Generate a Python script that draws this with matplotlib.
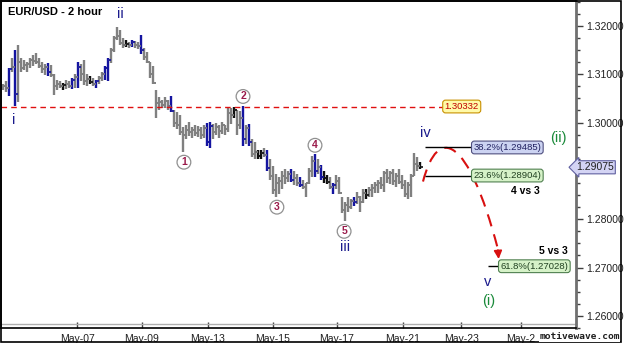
import matplotlib
matplotlib.use("Agg")
import matplotlib.pyplot as plt
import numpy as np
from matplotlib.path import Path
from matplotlib.patches import PathPatch, Rectangle

plt.rcParams['font.family'] = ['Liberation Sans', 'DejaVu Sans']

# 2 hour EUR/USD bars
highs = [1.3080, 1.3085, 1.3113, 1.3134, 1.3151, 1.3161, 1.3134, 1.3130, 1.3126, 1.3134,
         1.3140, 1.3144, 1.3134, 1.3126, 1.3122, 1.3124, 1.3120, 1.3101, 1.3089, 1.3085,
         1.3082, 1.3089, 1.3087, 1.3093, 1.3101, 1.3126, 1.3122, 1.3130, 1.3101, 1.3097,
         1.3093, 1.3089, 1.3097, 1.3105, 1.3118, 1.3134, 1.3155, 1.3179, 1.3198, 1.3192,
         1.3175, 1.3171, 1.3167, 1.3171, 1.3169, 1.3167, 1.3181, 1.3155, 1.3146, 1.3126,
         1.3118, 1.3068, 1.3052, 1.3047, 1.3052, 1.3047, 1.3054, 1.3027, 1.3021, 1.3016,
         1.2990, 1.2996, 1.3002, 1.2990, 1.2994, 1.2992, 1.2990, 1.2996, 1.3000, 1.3002,
         1.2998, 1.3000, 1.2996, 1.3002, 1.2996, 1.3031, 1.3031, 1.3033, 1.3027, 1.3023,
         1.3035, 1.2996, 1.2998, 1.2965, 1.2959, 1.2944, 1.2944, 1.2948, 1.2944, 1.2924,
         1.2911, 1.2893, 1.2887, 1.2899, 1.2903, 1.2899, 1.2903, 1.2899, 1.2893, 1.2887,
         1.2882, 1.2876, 1.2907, 1.2930, 1.2934, 1.2924, 1.2913, 1.2899, 1.2891, 1.2887,
         1.2874, 1.2891, 1.2887, 1.2845, 1.2835, 1.2845, 1.2841, 1.2847, 1.2856, 1.2849,
         1.2862, 1.2862, 1.2866, 1.2872, 1.2878, 1.2882, 1.2887, 1.2899, 1.2903, 1.2899,
         1.2903, 1.2895, 1.2903, 1.2891, 1.2882, 1.2878, 1.2893, 1.2938, 1.2928, 1.2918]
lows = [1.3068, 1.3064, 1.3054, 1.3105, 1.3034, 1.3043, 1.3105, 1.3109, 1.3105, 1.3113,
        1.3118, 1.3122, 1.3113, 1.3103, 1.3099, 1.3097, 1.3095, 1.3058, 1.3068, 1.3072,
        1.3068, 1.3070, 1.3072, 1.3070, 1.3072, 1.3072, 1.3085, 1.3078, 1.3076, 1.3080,
        1.3076, 1.3072, 1.3080, 1.3085, 1.3089, 1.3085, 1.3124, 1.3146, 1.3171, 1.3161,
        1.3155, 1.3157, 1.3155, 1.3157, 1.3155, 1.3153, 1.3142, 1.3130, 1.3124, 1.3093,
        1.3080, 1.3010, 1.3027, 1.3031, 1.3031, 1.3027, 1.3021, 1.2990, 1.2986, 1.2975,
        1.2940, 1.2965, 1.2973, 1.2969, 1.2973, 1.2971, 1.2965, 1.2969, 1.2951, 1.2948,
        1.2965, 1.2975, 1.2969, 1.2977, 1.2975, 1.2981, 1.2998, 1.3010, 1.2975, 1.2986,
        1.2951, 1.2955, 1.2951, 1.2928, 1.2924, 1.2924, 1.2924, 1.2928, 1.2899, 1.2882,
        1.2852, 1.2845, 1.2852, 1.2862, 1.2872, 1.2878, 1.2878, 1.2870, 1.2868, 1.2866,
        1.2862, 1.2847, 1.2872, 1.2887, 1.2887, 1.2893, 1.2882, 1.2874, 1.2872, 1.2862,
        1.2852, 1.2862, 1.2852, 1.2812, 1.2796, 1.2816, 1.2821, 1.2827, 1.2831, 1.2816,
        1.2833, 1.2841, 1.2845, 1.2847, 1.2854, 1.2854, 1.2862, 1.2856, 1.2876, 1.2872,
        1.2870, 1.2866, 1.2872, 1.2862, 1.2845, 1.2841, 1.2845, 1.2889, 1.2899, 1.2903]
closes = [1.3075, 1.3072, 1.3110, 1.3115, 1.3060, 1.3125, 1.3112, 1.3120, 1.3122, 1.3130,
          1.3128, 1.3125, 1.3118, 1.3110, 1.3115, 1.3105, 1.3098, 1.3075, 1.3080, 1.3076,
          1.3078, 1.3080, 1.3076, 1.3088, 1.3095, 1.3115, 1.3100, 1.3085, 1.3090, 1.3083,
          1.3080, 1.3086, 1.3092, 1.3100, 1.3112, 1.3130, 1.3150, 1.3175, 1.3180, 1.3165,
          1.3160, 1.3163, 1.3160, 1.3166, 1.3160, 1.3158, 1.3150, 1.3135, 1.3125, 1.3100,
          1.3082, 1.3040, 1.3042, 1.3036, 1.3044, 1.3035, 1.3024, 1.3000, 1.2995, 1.2980,
          1.2975, 1.2985, 1.2980, 1.2985, 1.2978, 1.2984, 1.2975, 1.2988, 1.2960, 1.2992,
          1.2980, 1.2990, 1.2982, 1.2994, 1.2986, 1.3020, 1.3015, 1.3025, 1.2995, 1.3010,
          1.2965, 1.2988, 1.2960, 1.2935, 1.2940, 1.2930, 1.2938, 1.2932, 1.2905, 1.2890,
          1.2860, 1.2875, 1.2880, 1.2890, 1.2885, 1.2894, 1.2882, 1.2885, 1.2875, 1.2870,
          1.2866, 1.2874, 1.2900, 1.2920, 1.2900, 1.2908, 1.2888, 1.2885, 1.2878, 1.2866,
          1.2870, 1.2880, 1.2855, 1.2820, 1.2830, 1.2826, 1.2838, 1.2835, 1.2845, 1.2836,
          1.2855, 1.2850, 1.2860, 1.2865, 1.2870, 1.2876, 1.2870, 1.2895, 1.2885, 1.2895,
          1.2880, 1.2890, 1.2878, 1.2870, 1.2852, 1.2870, 1.2890, 1.2915, 1.2910, 1.29075]
first_open = 1.3072

blue_bars = [2, 4, 15, 23, 25, 31, 34, 35, 43, 46, 56, 68, 69, 80, 82, 88, 96, 99,
             104, 106, 110, 117]
black_bars = [20, 29, 41, 77, 85, 86, 107, 108, 121, 139]

# date ticks (bar index where each day label sits)
tick_pos = [24.7, 46.3, 68.3, 90.0, 111.3, 133.3, 152.7, 172.5]
tick_labels = ['May-07', 'May-09', 'May-13', 'May-15', 'May-17', 'May-21', 'May-23', 'May-2']

prior_low = 1.30332
fib_382 = 1.29485
fib_236 = 1.28904
fib_618 = 1.27028
last_price = 1.29075

opens = [first_open] + closes[:-1]
x = np.arange(len(closes))
colors = ['#808080'] * len(closes)
for i in blue_bars:
    colors[i] = '#1414a0'
for i in black_bars:
    colors[i] = '#101010'

fig = plt.figure(figsize=(6.25, 3.43), dpi=100)
ax = fig.add_axes([1 / 625, 15 / 343, 575 / 625, 327 / 343])

ax.vlines(x, lows, highs, colors=colors, lw=1.7)
ax.hlines(opens, x - 0.9, x, colors=colors, lw=1.2)
ax.hlines(closes, x, x + 0.9, colors=colors, lw=1.2)

ax.set_xlim(-0.67, 191)
ax.set_ylim(1.25773, 1.32515)

# axes look
ax.yaxis.tick_right()
ax.set_yticks([1.26, 1.27, 1.28, 1.29, 1.30, 1.31, 1.32])
ax.set_yticklabels(['1.26000', '1.27000', '1.28000', '', '1.30000', '1.31000', '1.32000'])
ax.set_yticks(np.arange(1.2575, 1.3251, 0.0025), minor=True)
ax.tick_params(axis='y', which='major', length=5, width=1, colors='#404040',
               labelsize=7.5, labelcolor='#202020', pad=2)
ax.tick_params(axis='y', which='minor', length=3, width=1, colors='#404040')
ax.set_xticks(tick_pos)
ax.set_xticklabels(tick_labels)
ax.tick_params(axis='x', direction='in', length=4, width=1, colors='#404040',
               labelsize=7.5, labelcolor='#202020', pad=4)
for side in ['left', 'top', 'bottom']:
    ax.spines[side].set_color('black')
    ax.spines[side].set_linewidth(1.2)
ax.spines['right'].set_color('#707070')
ax.spines['right'].set_linewidth(2)
ax.plot([0, 1], [0.012, 0.012], transform=ax.transAxes, color='#b0b0b0', lw=1, clip_on=False)

navy = '#1a1a8c'
green = '#1a8a3a'
maroon = '#9b1b4b'

ax.text(0.012, 0.965, 'EUR/USD - 2 hour', transform=ax.transAxes, fontsize=8,
        fontweight='bold', ha='left', va='center')

# prior low level
ax.hlines(prior_low, -0.67, 146.7, colors='#e01010', lw=1, linestyles=(0, (4, 3)))
ax.text(147.2, prior_low, '1.30332', fontsize=6.8, color='#c00000', ha='left', va='center',
        bbox=dict(boxstyle='round,pad=0.2,rounding_size=0.3', fc='#fffaa8', ec='#c89000', lw=0.8))

# fib levels
ax.hlines([fib_382, fib_236], 140.7, 156.3, colors='black', lw=1)
ax.text(156.8, fib_382, '38.2%(1.29485)', fontsize=6.8, color='#202060', ha='left', va='center',
        bbox=dict(boxstyle='round,pad=0.2,rounding_size=0.3', fc='#ccd3f2', ec='#505080', lw=0.8))
ax.text(156.8, fib_236, '23.6%(1.28904)', fontsize=6.8, color='#204020', ha='left', va='center',
        bbox=dict(boxstyle='round,pad=0.2,rounding_size=0.3', fc='#d6f2c8', ec='#508050', lw=0.8))
ax.hlines(fib_618, 161.7, 165.3, colors='black', lw=1)
ax.text(165.8, fib_618, '61.8%(1.27028)', fontsize=6.8, color='#204020', ha='left', va='center',
        bbox=dict(boxstyle='round,pad=0.2,rounding_size=0.3', fc='#d6f2c8', ec='#508050', lw=0.8))
ax.text(179, 1.2858, '4 vs 3', fontsize=7.5, fontweight='bold', ha='right', va='center')
ax.text(188.3, 1.2734, '5 vs 3', fontsize=7.5, fontweight='bold', ha='right', va='center')

# last price marker
ax.text(1.0, last_price, '1.29075', transform=ax.get_yaxis_transform(), fontsize=7.5,
        ha='left', va='center', color='#202020', clip_on=False,
        bbox=dict(boxstyle='larrow,pad=0.15', fc='#d4d4f4', ec='#6060a0', lw=0.8))

# wave labels
for txt, xi, yi in [('i', 3.7, 1.3006), ('ii', 39, 1.3225), ('iii', 114, 1.2742),
                    ('iv', 140.7, 1.2979), ('v', 161.7, 1.2670)]:
    ax.text(xi, yi, txt, fontsize=10.5, color=navy, ha='center', va='center')
for txt, xi, yi in [('(ii)', 185, 1.2969), ('(i)', 162, 1.2631)]:
    ax.text(xi, yi, txt, fontsize=10.5, color=green, ha='center', va='center')
for txt, xi, yi in [('1', 60.3, 1.2918), ('2', 80, 1.3054), ('3', 91.3, 1.2825),
                    ('4', 104, 1.2953), ('5', 113.7, 1.2775)]:
    ax.text(xi, yi, txt, fontsize=7.5, color=maroon, fontweight='bold', ha='center', va='center',
            bbox=dict(boxstyle='circle,pad=0.18', fc='white', ec='#909090', lw=0.9))

# projected path
verts = [(140, 1.2878), (145, 1.2997), (155, 1.2972), (164.9, 1.2740)]
path = Path(verts, [Path.MOVETO, Path.CURVE4, Path.CURVE4, Path.CURVE4])
ax.add_patch(PathPatch(path, fc='none', ec='#d81010', lw=1.5, ls=(0, (6, 4))))
ax.annotate('', xy=(165.3, 1.2712), xytext=(164.9, 1.2742),
            arrowprops=dict(arrowstyle='-|>', color='#d81010', lw=1.2, mutation_scale=12))

# watermark and frame
fig.text(0.992, 0.018, 'motivewave.com', fontsize=6.8, fontweight='bold', family='DejaVu Sans Mono',
         ha='right', va='center', color='#202020',
         bbox=dict(boxstyle='square,pad=0.05', fc='white', ec='none'))
fig.patches.append(Rectangle((0.0015, 0.002), 621 / 625 - 0.0015, 0.996, transform=fig.transFigure,
                             fill=False, ec='black', lw=1.2))

fig.savefig('out.png', dpi=100)
